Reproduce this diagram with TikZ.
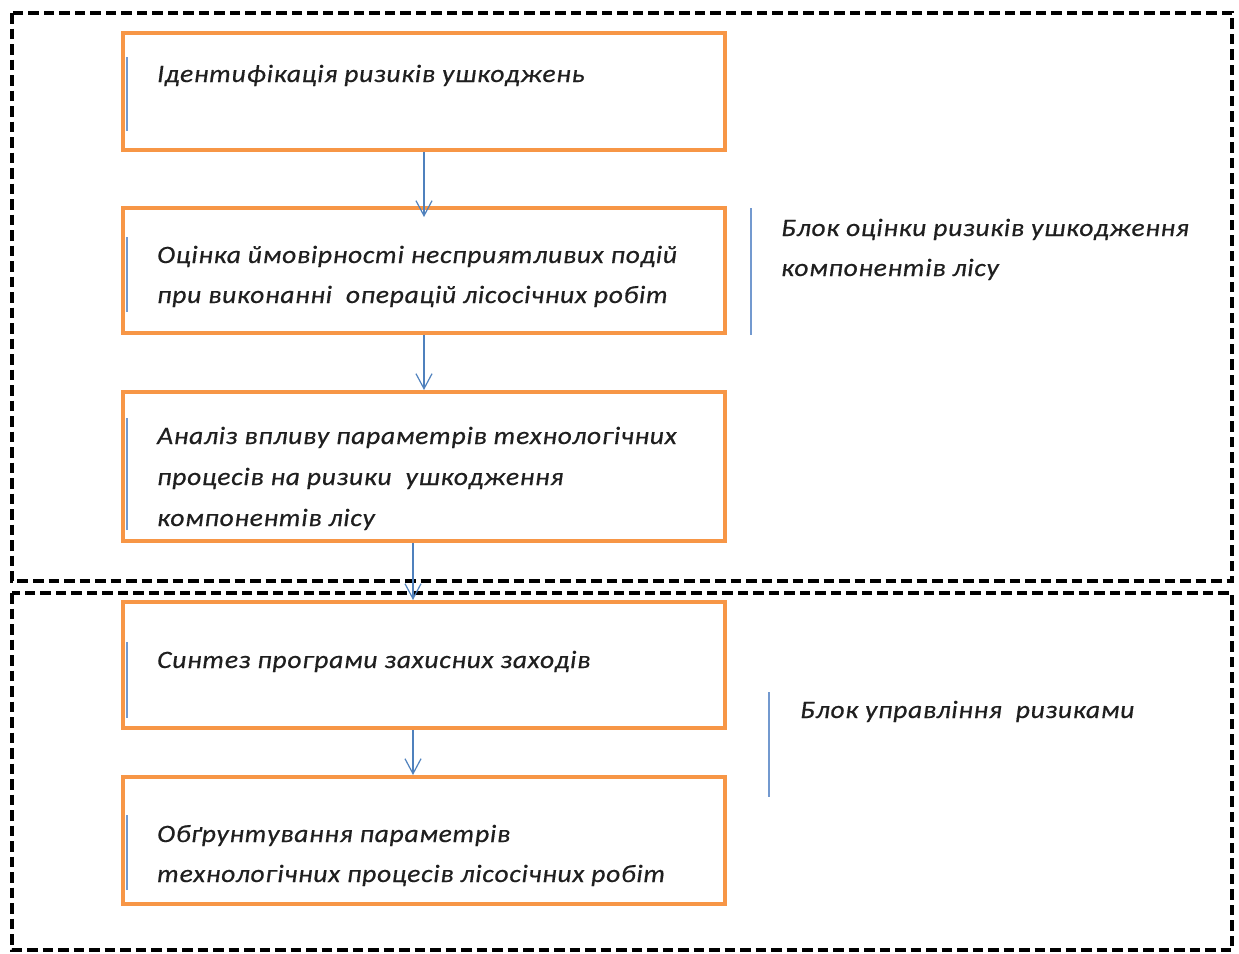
\documentclass[tikz,border=0pt]{standalone}
\usepackage{fontspec}
\setmainfont{Carlito}
\newfontfamily\diagfont{Carlito}[LetterSpace=3, FakeStretch=1.1, FakeBold=0.5]
\usetikzlibrary{arrows.meta}
\definecolor{orng}{HTML}{F79646}
\definecolor{blu}{HTML}{4F81BD}
\definecolor{accent}{HTML}{7399CF}
\begin{document}
\begin{tikzpicture}[x=1pt,y=-1pt,
  procbox/.style={draw=orng, line width=4pt, minimum width=602pt, inner sep=0pt, fill=white},
  blockframe/.style={draw=black, line width=4pt, dash pattern=on 10.5pt off 5pt},
  txt/.style={font=\diagfont\fontsize{25}{40}\selectfont\itshape, inner sep=0pt, anchor=base west, text=black!88},
  arr/.style={draw=blu, line width=1.2pt, -{Straight Barb[length=15pt,width=16pt,line width=1.2pt]}},
  accline/.style={draw=accent, line width=2pt},
  sideline/.style={draw=accent, line width=2.5pt}]
\useasboundingbox (0,0) rectangle (1239,953);
% dashed block frames
\draw[blockframe] (12,13) rectangle (1232,581);
\draw[blockframe] (12,593) rectangle (1232,950);
% process boxes
\node[procbox, minimum height=117pt] (b1) at (424,91.5) {};
\node[procbox, minimum height=125pt] (b2) at (424,270.5) {};
\node[procbox, minimum height=149pt] (b3) at (424,466.5) {};
\node[procbox, minimum height=126pt] (b4) at (424,665) {};
\node[procbox, minimum height=127pt] (b5) at (424,840.5) {};
% accent lines inside boxes
\draw[accline] (127,57) -- (127,131);
\draw[accline] (127,237) -- (127,312);
\draw[accline] (127,418) -- (127,530);
\draw[accline] (127,642) -- (127,718);
\draw[accline] (127,815) -- (127,890);
% texts
\node[txt] (t1) at (157,82) {Ідентифікація ризиків ушкоджень};
\node[txt] (t2a) at (157,263) {Оцінка ймовірності несприятливих подій};
\node[txt] (t2b) at (157,303) {при виконанні\ \ операцій лісосічних робіт};
\node[txt] (t3a) at (157,444) {Аналіз впливу параметрів технологічних};
\node[txt] (t3b) at (157,485) {процесів на ризики\ \ ушкодження};
\node[txt] (t3c) at (157,526) {компонентів лісу};
\node[txt] (t4) at (157,668) {Синтез програми захисних заходів};
\node[txt] (t5a) at (157,842) {Обґрунтування параметрів};
\node[txt] (t5b) at (157,882) {технологічних процесів лісосічних робіт};
% side labels
\draw[sideline] (751,208) -- (751,335);
\node[txt] (l1a) at (781,236) {Блок оцінки ризиків ушкодження};
\node[txt] (l1b) at (781,276) {компонентів лісу};
\draw[sideline] (769,692) -- (769,797);
\node[txt] (l2) at (800,718) {Блок управління\ \ ризиками};
% arrows
\draw[arr, shorten >=-11pt] (b1.south) -- (b2.north);
\draw[arr] (b2.south) -- (b3.north);
\draw[arr] ([xshift=-11pt]b3.south) -- ([xshift=-11pt]b4.north);
\draw[arr] ([xshift=-11pt]b4.south) -- ([xshift=-11pt]b5.north);
\end{tikzpicture}
\end{document}
